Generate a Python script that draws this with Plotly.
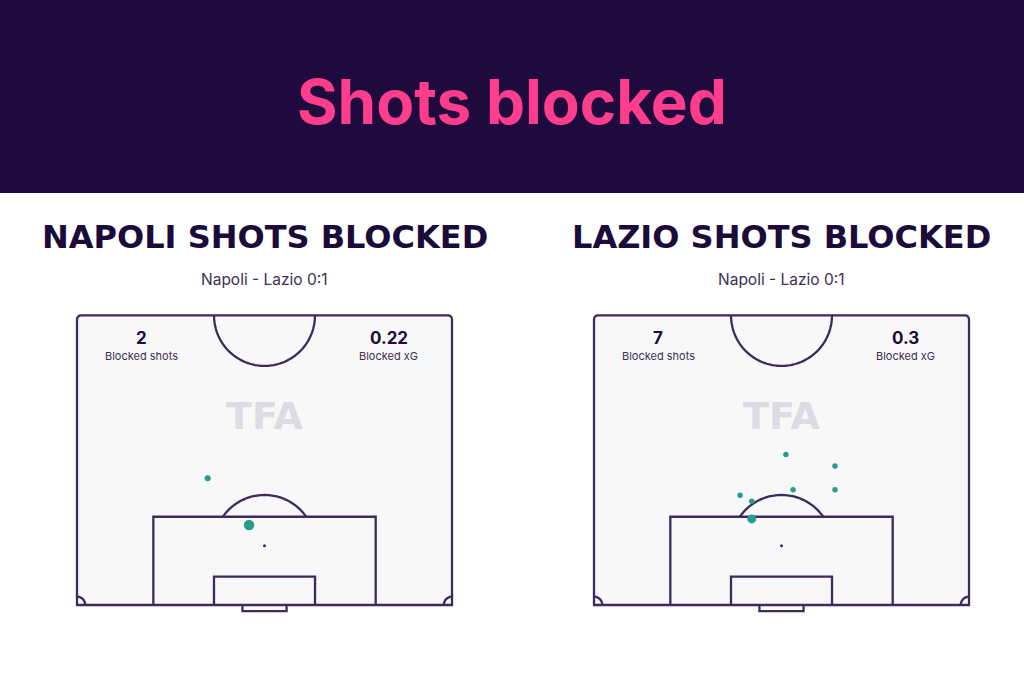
import numpy as np
import plotly.graph_objects as go

# ---------------- data ----------------
teams = ["NAPOLI", "LAZIO"]
match_label = "Napoli - Lazio 0:1"
blocked_shots = [2, 7]
blocked_xg = ["0.22", "0.3"]

# shot locations: x = across pitch width (m, 0-68), y = distance from goal line (m)
napoli_x = [23.7, 31.2]
napoli_y = [23.0, 14.5]
napoli_xg = [0.04, 0.18]

lazio_x = [34.8, 43.7, 36.1, 43.7, 26.5, 28.6, 28.6]
lazio_y = [27.3, 25.2, 20.9, 20.9, 19.9, 18.8, 15.6]
lazio_xg = [0.03, 0.03, 0.03, 0.03, 0.03, 0.03, 0.12]

# ---------------- style / layout constants ----------------
W, H = 1024, 683
SCALE = 5.515  # px per metre
PITCH_W, PITCH_L = 68.0, 52.5
BOX_D, SIX_D, SPOT_D, ARC_R = 16.0, 5.13, 10.75, 9.2
XR = (-2.0, 70.0)
YR = (-2.5, 54.0)
pitch_left_px = [77, 594]
pitch_bottom_px = 605

LINE = "#3c2b5f"
LW = 2.3
FILL = "#f8f8f9"
DOT = "#279e8c"
HEADER = "#1f0a3d"
PINK = "#ff3d8d"
NAVY = "#1b0b3b"


def px(x):
    return x / W


def py(y):
    return 1 - y / H


fig = go.Figure()

axes = [("x", "y", "xaxis", "yaxis"), ("x2", "y2", "xaxis2", "yaxis2")]
layout_axes = {}
for i, (xr, yr, xa, ya) in enumerate(axes):
    left = pitch_left_px[i] + XR[0] * SCALE
    right = pitch_left_px[i] + XR[1] * SCALE
    bottom = pitch_bottom_px - YR[0] * SCALE
    top = pitch_bottom_px - YR[1] * SCALE
    layout_axes[xa] = dict(domain=[px(left), px(right)], range=list(XR), visible=False,
                           fixedrange=True, anchor=yr)
    layout_axes[ya] = dict(domain=[py(bottom), py(top)], range=list(YR), visible=False,
                           fixedrange=True, anchor=xr)


def arc_path(cx, cy, r, a0, a1, n=60):
    t = np.linspace(np.radians(a0), np.radians(a1), n)
    pts = [(cx + r * np.cos(a), cy + r * np.sin(a)) for a in t]
    return "M " + " L ".join(f"{x:.3f},{y:.3f}" for x, y in pts)


shapes = []
for i, (xr, yr, _, _) in enumerate(axes):
    base = dict(xref=xr, yref=yr, layer="below")
    line = dict(color=LINE, width=LW)
    r = 0.8
    outer = (f"M 0,0 L 0,{PITCH_L - r} Q 0,{PITCH_L} {r},{PITCH_L} "
             f"L {PITCH_W - r},{PITCH_L} Q {PITCH_W},{PITCH_L} {PITCH_W},{PITCH_L - r} "
             f"L {PITCH_W},0 Z")
    shapes.append(dict(type="path", path=outer, fillcolor=FILL, line=line, **base))
    # penalty box
    shapes.append(dict(type="path",
                       path=f"M {34 - 20.16},0 L {34 - 20.16},{BOX_D} L {34 + 20.16},{BOX_D} L {34 + 20.16},0",
                       line=line, **base))
    # six-yard box
    shapes.append(dict(type="path",
                       path=f"M {34 - 9.16},0 L {34 - 9.16},{SIX_D} L {34 + 9.16},{SIX_D} L {34 + 9.16},0",
                       line=line, **base))
    # goal
    shapes.append(dict(type="path",
                       path="M 30,0 L 30,-1.1 L 38,-1.1 L 38,0",
                       line=line, **base))
    # centre circle (half)
    shapes.append(dict(type="path", path=arc_path(34, PITCH_L, 9.15, 180, 360), line=line, **base))
    # penalty arc
    ang = np.degrees(np.arcsin((BOX_D - SPOT_D) / ARC_R))
    shapes.append(dict(type="path", path=arc_path(34, SPOT_D, ARC_R, ang, 180 - ang), line=line, **base))
    # corner arcs
    shapes.append(dict(type="path", path=arc_path(0, 0, 1.5, 0, 90, 20), line=line, **base))
    shapes.append(dict(type="path", path=arc_path(PITCH_W, 0, 1.5, 90, 180, 20), line=line, **base))

# header band
shapes.append(dict(type="rect", xref="paper", yref="paper", x0=0, x1=1, y0=py(193), y1=1,
                   fillcolor=HEADER, line=dict(width=0), layer="below"))


def sizes(xg):
    return [2 + 20 * np.sqrt(v) for v in xg]


for i, (sx, sy, sxg) in enumerate([(napoli_x, napoli_y, napoli_xg), (lazio_x, lazio_y, lazio_xg)]):
    xr, yr = axes[i][0], axes[i][1]
    # penalty spot
    fig.add_trace(go.Scatter(x=[34], y=[SPOT_D], mode="markers", xaxis=xr, yaxis=yr,
                             marker=dict(size=3, color=LINE, opacity=1), hoverinfo="skip",
                             showlegend=False))
    fig.add_trace(go.Scatter(x=sx, y=sy, mode="markers", xaxis=xr, yaxis=yr,
                             marker=dict(size=sizes(sxg), color=DOT, opacity=1, line=dict(width=0)),
                             showlegend=False))


def note(text, x, y, size, color, family="Inter, sans-serif", weight=400):
    return dict(text=text, x=px(x), y=py(y), xref="paper", yref="paper",
                xanchor="center", yanchor="middle", showarrow=False,
                font=dict(family=family, size=size, color=color, weight=weight))


ann = [note("Shots blocked", 512, 101, 62, PINK, "Inter, Lato, sans-serif", 700)]
centers = [264.5, 781.5]
for i, team in enumerate(teams):
    c = centers[i]
    ann.append(note(f"{team} SHOTS BLOCKED", c, 237, 32, NAVY, "DejaVu Sans", 700))
    ann.append(note(match_label, c, 279, 15.5, "#3b3153"))
    left_c = pitch_left_px[i] + 64
    right_c = pitch_left_px[i] + 311.5
    ann.append(note(str(blocked_shots[i]), left_c, 338, 17, NAVY, weight=700))
    ann.append(note("Blocked shots", left_c, 356, 11, "#3b3153"))
    ann.append(note(blocked_xg[i], right_c, 338, 17, NAVY, weight=700))
    ann.append(note("Blocked xG", right_c, 356, 11, "#3b3153"))
    ann.append(note("TFA", c, 416, 38, "#dddbe3", "DejaVu Sans", 700))

fig.update_layout(width=W, height=H, margin=dict(l=0, r=0, t=0, b=0),
                  paper_bgcolor="white", plot_bgcolor="rgba(0,0,0,0)",
                  shapes=shapes, annotations=ann, showlegend=False, **layout_axes)

fig.write_html("out.html", config={"displayModeBar": False},
               post_script="document.body.style.margin='0';document.body.style.overflow='hidden';")
